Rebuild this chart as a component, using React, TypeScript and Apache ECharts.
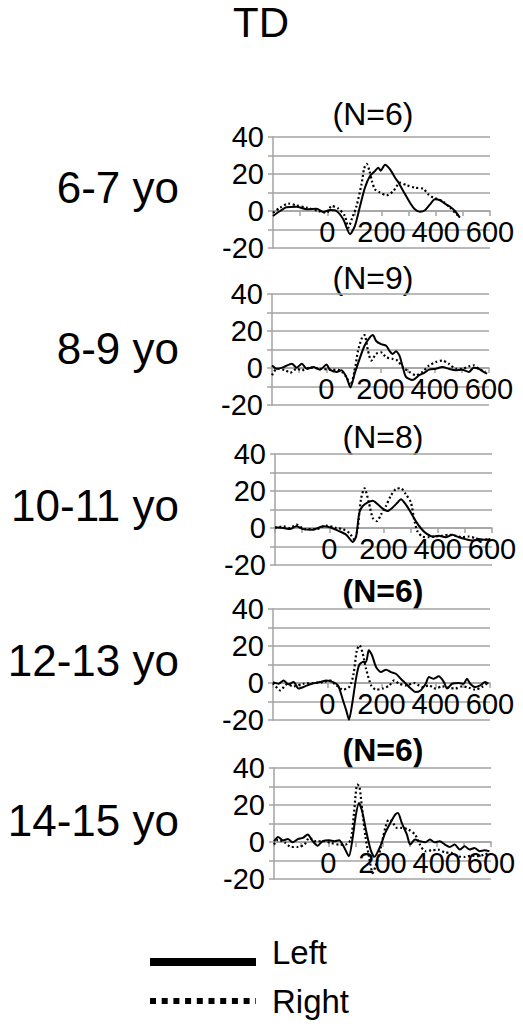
import React, { useEffect, useRef } from "react";
import * as echarts from "echarts";

// ---- data ----
const mainTitle = "TD";
const ageLabels = ["6-7 yo", "8-9 yo", "10-11 yo", "12-13 yo", "14-15 yo"];
const groupSizes = ["(N=6)", "(N=9)", "(N=8)", "(N=6)", "(N=6)"];
const boldTitle = [false, false, false, true, true];
const seriesNames = ["Left", "Right"];
const xTickLabels = [0, 200, 400, 600];
const yTickLabels = [-20, 0, 20, 40];

// [time (ms), amplitude]
const left67 = [[-200,-2.7],[-174,0],[-150,2],[-113,2.3],[-76,1],[-39,1.2],[-15,-0.5],[10,0.5],[34,0],[59,-4.5],[84,-12.5],[102,-8],[121,2.7],[139,12.6],[158,19],[175,21.5],[188,23.4],[197,21.8],[213,25],[231,22.6],[250,18],[262,15.5],[280,10.8],[305,4.5],[323,1],[342,-0.4],[360,0.4],[379,3.6],[397,6.3],[416,5.8],[434,4],[453,2.3],[471,0],[489,-3.6]];
const right67 = [[-200,-1],[-174,1.8],[-143,4],[-113,3],[-76,1.8],[-33,0],[-2,-1],[16,2.7],[41,1.3],[65,-2.7],[78,-9],[90,-4.5],[108,2.7],[127,15],[136,23],[145,25.5],[155,22],[165,16],[176,11.7],[194,10],[219,8.5],[244,10.8],[268,15.3],[293,13.9],[323,12.6],[354,12],[373,9],[391,7.2],[410,6.3],[428,5],[453,1.8],[477,-1.8],[489,-2.7]];

const left89 = [[-200,1.4],[-182,-0.4],[-157,0.5],[-127,2.3],[-109,0.2],[-90,2.3],[-72,-0.4],[-48,0.5],[-23,-0.9],[1,1.9],[13,-0.9],[38,-2.1],[56,-1.2],[74,-4.8],[89,-10.5],[105,-3],[123,4.9],[141,12],[160,16.4],[172,17.8],[184,14.6],[202,12.9],[221,12],[233,9.3],[245,7.6],[257,9],[270,6.7],[282,0.5],[294,-4.8],[318,-6.5],[343,-3.9],[361,-2.6],[379,-0.9],[404,-0.4],[428,0.5],[452,-0.4],[477,-1.2],[501,-0.9],[526,-2.1],[544,0.2],[562,-0.4],[580,-2.1],[593,-3]];
const right89 = [[-200,-3.9],[-182,-0.4],[-151,-1.2],[-133,-2.6],[-109,-0.4],[-90,-1.2],[-60,0.2],[-23,-0.4],[13,-0.9],[50,-1.2],[74,-4.8],[89,-9.2],[105,-1.2],[117,9.3],[132,16.4],[141,17.8],[154,9.3],[166,4],[184,7.6],[202,8.5],[221,5.8],[245,4.9],[263,4],[282,0.5],[306,-2.1],[330,-3.9],[355,-2.1],[379,1.4],[404,3.2],[428,4],[452,2.3],[477,-0.4],[501,-0.4],[526,0.9],[544,1.4],[562,-0.4],[587,-2.1]];

const left1011 = [[-200,0.4],[-169,0],[-145,-0.6],[-121,0.9],[-96,-0.6],[-60,-0.9],[-23,0.9],[1,0.4],[38,-1.8],[63,-3.7],[87,-7.5],[99,-4.6],[111,8.3],[124,11.9],[142,13.8],[160,14.7],[179,12.8],[197,10.5],[215,9.2],[233,11],[252,13.8],[264,15.6],[282,12.8],[301,8.3],[319,3.7],[337,0],[356,-2.8],[380,-4.6],[404,-4.2],[429,-5],[453,-3.7],[478,-5],[502,-6],[527,-6.8],[551,-6],[575,-6.4],[594,-5.9]];
const right1011 = [[-200,0],[-169,0.9],[-145,0],[-121,1.8],[-90,-0.6],[-47,-0.6],[-11,1.3],[26,0],[50,-0.6],[75,-2.8],[93,-6.4],[105,0],[117,15.6],[130,21.5],[146,13.8],[160,5.5],[175,3.7],[191,7.3],[209,11.9],[227,17.4],[246,21.1],[264,21.5],[282,18.3],[301,13.8],[313,4.6],[325,-1.8],[343,-4.6],[368,-5],[392,-4.6],[417,-4.2],[441,-3.7],[465,-4.2],[490,-5],[514,-4.6],[539,-5.5],[563,-6.4],[588,-6]];

const left1213 = [[-200,0.5],[-179,-0.4],[-161,1.4],[-143,-0.7],[-124,0.5],[-106,-3],[-82,-1.8],[-57,-0.4],[-27,0.5],[-3,1.4],[22,0.5],[40,-1.3],[58,-9.4],[70,-14.8],[80,-19.8],[92,-11.2],[105,1.4],[117,9.5],[131,11.4],[143,11.4],[153,17.7],[165,15],[180,8.6],[198,5.9],[217,7.2],[235,5.9],[253,5],[271,2.3],[290,-0.4],[308,-3],[326,-4.9],[344,-4],[363,-0.4],[375,3.2],[393,2.3],[411,3.6],[430,0.5],[442,-3],[460,-0.4],[485,0],[503,-0.4],[515,2.3],[527,-0.4],[545,-2.2],[564,-1.3],[582,0.5],[594,-0.4]];
const right1213 = [[-200,0],[-173,-4],[-149,-0.7],[-124,-1.8],[-88,-0.4],[-51,0],[-15,0.5],[9,1.4],[34,-1.3],[58,-3.6],[83,-1.8],[97,5],[109,17.7],[119,20.4],[131,15.9],[143,7.7],[162,-1.3],[180,-3.6],[204,-3],[229,-1.3],[247,1.4],[265,-0.4],[290,-1.3],[320,0],[351,-2.2],[375,-1.3],[399,-3],[424,-1.8],[448,-2.5],[472,-3],[497,-1.8],[521,-2.5],[545,-3.6],[570,-2.2],[588,-0.4]];

const left1415 = [[-200,0.4],[-185,2.7],[-167,0.9],[-149,1.6],[-131,-0.2],[-112,1.6],[-94,2.2],[-76,4],[-57,0.4],[-39,-2],[-21,0.4],[3,0.9],[22,0.4],[40,0.9],[58,-2.7],[76,-7.7],[89,1.3],[101,13.9],[113,21.1],[125,16.6],[140,5.8],[156,-4.1],[170,-8],[192,-2.3],[210,4.9],[229,10.3],[247,14.8],[257,15.7],[271,10.3],[290,4],[302,-1.4],[320,1.3],[338,0.4],[357,-0.2],[375,1.3],[393,-0.2],[411,0.4],[430,-1.4],[448,-2.7],[466,-1.4],[485,-4.1],[503,-2.3],[521,-4.1],[539,-3.2],[558,-5],[576,-4.5],[594,-5]];
const right1415 = [[-200,-1.4],[-185,1.3],[-161,-0.2],[-137,-2.7],[-112,-2.7],[-88,-1.4],[-70,2.2],[-45,0.4],[-15,0.4],[10,-0.5],[40,-1.4],[64,-1.4],[83,1.3],[95,15.7],[107,31],[115,30],[125,17.5],[137,3],[150,-7.7],[164,-16.8],[174,-13.2],[192,-4.1],[210,7.6],[223,12],[235,11.2],[253,7.6],[271,7.6],[296,6.7],[320,4],[338,-1.4],[357,-5],[381,-4.5],[405,-4.1],[430,-5.6],[454,-5.9],[478,-7.7],[503,-8.1],[527,-7.4],[551,-7.7],[576,-6.8],[594,-5.9]];

const panelData = [
  [left67, right67],
  [left89, right89],
  [left1011, right1011],
  [left1213, right1213],
  [left1415, right1415],
];

// ---- layout ----
const FONT = "'Liberation Sans', Arial, sans-serif";
const panelTops = [137, 294, 454, 609, 768];
const panelLefts = [273, 272, 275, 273, 274];
const PANEL_W = 217;
const PANEL_H = 111;
const Y_MIN = -20;
const Y_MAX = 40;
// the x axis crosses at y = 0: shift it up from the bottom edge
const X_AXIS_OFFSET = -PANEL_H * (0 - Y_MIN) / (Y_MAX - Y_MIN);
const titleY = [114, 278, 437, 591, 750];
const titleX = [373, 373, 383, 383, 383];
const ageY = [187, 348, 505, 660, 820];
const GRID_COLOR = "#a3a3a3";

export default function App() {
  const ref = useRef<HTMLDivElement>(null);

  useEffect(() => {
    if (!ref.current) return;
    const chart = echarts.init(ref.current, null, { renderer: "svg" });

    const grids: any[] = [];
    const xAxes: any[] = [];
    const yAxes: any[] = [];
    const series: any[] = [];
    const graphics: any[] = [];

    panelData.forEach((pair, i) => {
      grids.push({
        left: panelLefts[i],
        top: panelTops[i],
        width: PANEL_W,
        height: PANEL_H,
        containLabel: false,
      });
      xAxes.push({
        type: "value",
        gridIndex: i,
        position: "bottom",
        offset: X_AXIS_OFFSET,
        min: -200,
        max: 600,
        interval: 100,
        axisLine: { show: true, onZero: false, lineStyle: { color: GRID_COLOR, width: 1.5 } },
        axisTick: { show: true, length: 5, lineStyle: { color: GRID_COLOR, width: 1.5 } },
        splitLine: { show: false },
        axisLabel: {
          show: true,
          margin: 6,
          color: "#000",
          fontSize: 29,
          fontFamily: FONT,
          showMinLabel: true,
          showMaxLabel: true,
          hideOverlap: false,
          formatter: (v: number) => (xTickLabels.includes(v) ? String(v) : ""),
        },
      });
      yAxes.push({
        type: "value",
        gridIndex: i,
        position: "left",
        min: Y_MIN,
        max: Y_MAX,
        interval: 10,
        axisLine: { show: true, onZero: false, lineStyle: { color: GRID_COLOR, width: 1.5 } },
        axisTick: { show: true, length: 5, lineStyle: { color: GRID_COLOR, width: 1.5 } },
        splitLine: { show: true, lineStyle: { color: GRID_COLOR, width: 1.5 } },
        axisLabel: {
          show: true,
          margin: 9,
          color: "#000",
          fontSize: 29,
          fontFamily: FONT,
          formatter: (v: number) => (yTickLabels.includes(v) ? String(v) : ""),
        },
      });
      pair.forEach((d, k) => {
        series.push({
          name: seriesNames[k],
          type: "line",
          xAxisIndex: i,
          yAxisIndex: i,
          data: d,
          symbol: "none",
          smooth: 0.25,
          lineStyle: k === 0
            ? { color: "#000", width: 2, type: "solid" }
            : { color: "#000", width: 2.2, type: [2, 2.5] },
          z: k === 0 ? 3 : 2,
        });
      });
      graphics.push({
        type: "text",
        x: titleX[i],
        y: titleY[i],
        style: {
          text: groupSizes[i],
          fill: "#000",
          font: `${boldTitle[i] ? "bold " : ""}32px ${FONT}`,
          align: "center",
          verticalAlign: "middle",
        },
      });
      graphics.push({
        type: "text",
        x: 179,
        y: ageY[i],
        style: {
          text: ageLabels[i],
          fill: "#000",
          font: `44px ${FONT}`,
          align: "right",
          verticalAlign: "middle",
        },
      });
    });

    graphics.push({
      type: "text",
      x: 261,
      y: 22,
      style: { text: mainTitle, fill: "#000", font: `42px ${FONT}`, align: "center", verticalAlign: "middle" },
    });
    // legend
    graphics.push({
      type: "line",
      shape: { x1: 150, y1: 962, x2: 256, y2: 962 },
      style: { stroke: "#000", lineWidth: 8 },
    });
    graphics.push({
      type: "line",
      shape: { x1: 150, y1: 1001, x2: 256, y2: 1001 },
      style: { stroke: "#000", lineWidth: 6, lineDash: [6, 5.7] },
    });
    graphics.push({
      type: "text",
      x: 272,
      y: 952,
      style: { text: seriesNames[0], fill: "#000", font: `33px ${FONT}`, align: "left", verticalAlign: "middle" },
    });
    graphics.push({
      type: "text",
      x: 272,
      y: 1001,
      style: { text: seriesNames[1], fill: "#000", font: `33px ${FONT}`, align: "left", verticalAlign: "middle" },
    });

    chart.setOption({
      animation: false,
      backgroundColor: "#fff",
      grid: grids,
      xAxis: xAxes,
      yAxis: yAxes,
      series,
      graphic: graphics,
    });

    return () => chart.dispose();
  }, []);

  return (
    <div
      ref={ref}
      style={{ position: "fixed", left: 0, top: 0, width: 523, height: 1026 }}
    />
  );
}
